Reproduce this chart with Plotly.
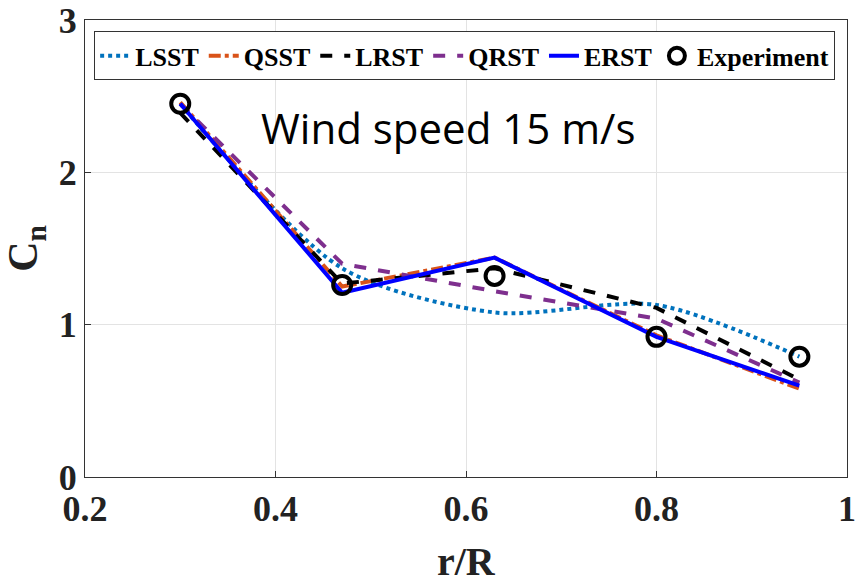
import plotly.graph_objects as go

r_R = [0.3, 0.47, 0.63, 0.8, 0.95]
lsst = [2.45, 1.37, 1.08, 1.13, 0.79]
qsst = [2.46, 1.25, 1.44, 0.93, 0.58]
lrst = [2.39, 1.27, 1.37, 1.11, 0.64]
qrst = [2.45, 1.40, 1.22, 1.04, 0.62]
erst = [2.45, 1.21, 1.44, 0.92, 0.60]
experiment = [2.45, 1.26, 1.32, 0.92, 0.79]

fig = go.Figure()
fig.add_trace(go.Scatter(x=r_R, y=lsst, name="LSST", mode="lines",
                         line=dict(color="#0072BD", width=4, dash="dot", shape="spline", smoothing=0.8)))
fig.add_trace(go.Scatter(x=r_R, y=qsst, name="QSST", mode="lines",
                         line=dict(color="#D95319", width=4, dash="dashdot")))
fig.add_trace(go.Scatter(x=r_R, y=lrst, name="LRST", mode="lines",
                         line=dict(color="black", width=4, dash="dash")))
fig.add_trace(go.Scatter(x=r_R, y=qrst, name="QRST", mode="lines",
                         line=dict(color="#7E2F8E", width=4, dash="dash")))
fig.add_trace(go.Scatter(x=r_R, y=erst, name="ERST", mode="lines",
                         line=dict(color="#0000FF", width=4)))
fig.add_trace(go.Scatter(x=r_R, y=experiment, name="Experiment", mode="markers",
                         marker=dict(symbol="circle-open", size=18, color="black",
                                     line=dict(width=4, color="black"))))

fig.add_annotation(x=0.476, y=0.765, xref="paper", yref="paper", text="Wind speed 15 m/s",
                   xanchor="center", yanchor="middle",
                   showarrow=False, font=dict(family="Open Sans", size=42, color="black"))
fig.add_annotation(x=0.5, y=-0.185, xref="paper", yref="paper", text="r/R",
                   xanchor="center", yanchor="middle", showarrow=False,
                   font=dict(family="Liberation Serif", size=40, color="#222", weight="bold"))

fig.update_layout(
    width=856, height=587,
    margin=dict(l=85, r=9, t=20, b=110),
    paper_bgcolor="white", plot_bgcolor="white",
    font=dict(family="Liberation Serif", color="#222"),
    legend=dict(orientation="h", x=0.012, y=0.975, xanchor="left", yanchor="top",
                bgcolor="white", bordercolor="#333", borderwidth=1,
                font=dict(family="Liberation Serif", size=26, color="black", weight="bold"),
                itemwidth=30, tracegroupgap=0),
    xaxis=dict(range=[0.2, 1.0], tickvals=[0.2, 0.4, 0.6, 0.8, 1.0],
               ticktext=["0.2", "0.4", "0.6", "0.8", "1"], automargin=False,
               showgrid=True, gridcolor="#e3e3e3", gridwidth=1,
               showline=True, linecolor="#333", linewidth=1, mirror=True,
               ticks="inside", ticklen=6, tickcolor="#333", zeroline=False,
               tickfont=dict(family="Liberation Serif", size=36, color="#222", weight="bold")),
    yaxis=dict(range=[0, 3], tickvals=[0, 1, 2, 3], automargin=False,
               showgrid=True, gridcolor="#e3e3e3", gridwidth=1,
               showline=True, linecolor="#333", linewidth=1, mirror=True,
               ticks="inside", ticklen=6, tickcolor="#333", zeroline=False,
               tickfont=dict(family="Liberation Serif", size=36, color="#222", weight="bold"),
               title=dict(text="C<sub>n</sub>", font=dict(family="Liberation Serif", size=42, color="#222", weight="bold"),
                          standoff=10)),
)

fig.write_html("out.html")
